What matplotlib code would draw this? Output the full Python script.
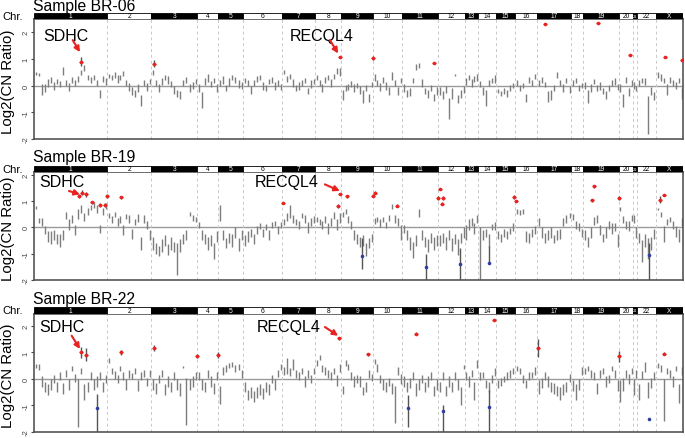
import matplotlib
matplotlib.use('Agg')
import matplotlib.pyplot as plt
import numpy as np

plt.rcParams['font.family'] = ['Liberation Sans', 'DejaVu Sans']

# chromosomes along the genome axis (widths = share of the plot)
chroms = ['1', '2', '3', '4', '5', '6', '7', '8', '9', '10', '11', '12',
          '13', '14', '15', '16', '17', '18', '19', '20', '21', '22', 'X']
chrom_width = [73, 44, 46, 21, 25, 39, 33, 26, 32, 29, 36, 27,
               13, 18, 19, 22, 34, 12, 36, 14, 4, 19, 27]

# ---- Sample BR-06 : probe log2 ratios (centre) and half spread, per chromosome
cen_06 = [
    [.45, .4, -.15, -.1, .1, .2, 0, .15, .05, .55, .1, -.05, .2, .1, .25, .5, .65, .3, .2, .3, .1, -.3, .25, .15],
    [.35, .3, .4, .25, .3, .45, .1, -.05, -.2, -.3, -.1, -.55, .1, -.05, .15],
    [.5, .1, -.1, .15, .3, .2, .05, -.15, -.3, -.35, .1, .2, -.1, 0, .15],
    [-.1, -.55, .15, .3, .05, .2, -.1],
    [.1, .2, -.1, .15, .3, .2, .05, 0],
    [.2, .1, -.15, .1, .25, .3, 0, -.1, .15, .2, 0, .1, -.05],
    [.5, .25, .35, .1, -.1, 0, .1, .2, -.2, .05, .15],
    [.3, .1, -.1, .2, .3, .1, .35, .55, .5],
    [-.35, -.1, -.05, .05, -.1, 0, -.15, -.4, -.1, -.45, .05],
    [.3, .1, -.05, .2, 0, -.2, .35, .1, -.2, .2],
    [-.1, -.3, -.25, .2, .7, .75, .1, -.2, -.3, -.1, -.45, -.2],
    [-.2, -.35, -.15, -.85, -.3, .4, -.5, -.3, -.15],
    [.15, .3, .1, .25, .3],
    [.05, -.2, -.45, .1, .2, .25],
    [-.2, -.3, -.2, -.3, -.1, 0],
    [.1, -.1, 0, -.45, .2, .1, .35],
    [.1, .2, .05, -.4, -.35, -.1, .4, .1, -.1, .2, -.15],
    [.1, .2, -.1, 0],
    [0, -.4, -.1, .15, -.1, 0, -.2, -.35, -.1, .1, .15, -.05],
    [-.1, -.55, .2, -.25, .1],
    [0, -.1],
    [.1, .2, .15, -1.1, -.2, -.4],
    [.4, .3, .2, -.15, .2, .1, 0, .2, -.3],
]
half_06 = [
    [.07, .06, .2, .15, .15, .12, .15, .1, .12, .15, .1, .15, .12, .1, .1, .1, .12, .1, .12, .1, .12, .15, .1, .12],
    [.08, .1, .1, .15, .1, .1, .12, .15, .15, .12, .15, .2, .12, .15, .1],
    [.1, .12, .15, .12, .1, .15, .12, .15, .12, .15, .1, .12, .15, .12, .1],
    [.15, .3, .12, .15, .12, .1, .15],
    [.12, .15, .12, .15, .1, .12, .15, .12],
    [.1, .12, .15, .12, .1, .1, .15, .12, .1, .12, .15, .12, .1],
    [.08, .12, .1, .15, .12, .15, .12, .1, .12, .15, .1],
    [.1, .12, .15, .12, .1, .15, .1, .1, .15],
    [.2, .12, .1, .12, .15, .1, .15, .25, .12, .15, .1],
    [.12, .12, .15, .12, .15, .15, .15, .12, .15, .1],
    [.15, .12, .15, .1, .1, .08, .15, .12, .15, .12, .12, .15],
    [.15, .15, .12, .4, .2, .05, .15, .15, .12],
    [.12, .1, .15, .1, .12],
    [.12, .15, .3, .12, .1, .15],
    [.08, .1, .1, .12, .12, .1],
    [.12, .12, .1, .15, .12, .1, .1],
    [.12, .12, .1, .2, .2, .12, .1, .12, .15, .1, .12],
    [.12, .1, .12, .1],
    [.12, .25, .15, .1, .12, .15, .12, .15, .12, .1, .12, .12],
    [.15, .25, .12, .15, .1],
    [.12, .1],
    [.12, .1, .12, .7, .15, .15],
    [.1, .12, .1, .2, .12, .1, .12, .1, .2],
]
amp_x_06 = [46.7, 120, 305.7, 339, 399.4, 511.4, 563.7, 596, 630.7, 648]
amp_y_06 = [.89, .82, 1.07, 1.04, .83, 2.32, 2.33, 1.14, 1.05, .95]
amp_e_06 = [.17, .14, .04, .08, .04, .02, .02, .03, .03, .03]
del_x_06 = []
del_y_06 = []
del_lo_06 = []
del_hi_06 = []

# ---- Sample BR-19
cen_19 = [
    [.75, .25, .2, -.1, -.35, -.4, -.3, -.45, -.5, -.3, .45, .1, .3, -.1, .5, .7, .4, .6, .75, .85, .7, -.05, .6, .8],
    [.45, .3, .5, .2, .3, -.1, .4, .3, -.25, .2, .35, -.6, .3, .1, -.3],
    [-.6, -.8, -.9, -.7, -.5, -.85, -.6, -.75, -1.2, -.7, -.45, -.3, .5, .35, .3],
    [.1, -.3, -.45, -.6, -.5, -.9, -.35],
    [.55, -.3, -.6, -.4, -.5, -.2, -.65, -.3],
    [-.5, -.35, -.2, -.45, -.1, .05, -.2, 0, -.3, .1, .15, -.1, .1],
    [.2, .4, .6, .3, .2, .1, .45, .3, 0, .2, .3],
    [.3, .2, .1, .3, -.05, .2, .45, .1, .35],
    [.5, .6, .3, .1, -.3, -.45, -.55, -.5, -.85, -.6, -.4],
    [.25, .3, .15, .3, .1, .35, .8, .3, .2, -.2],
    [-.05, -.3, -.6, -.85, -.5, .55, -.3, -.55, -.7, -.4, -.6, -.5],
    [-.5, -.4, -.6, -.3, -.65, -.45, -.75, -.4, -.2],
    [-.2, .1, .2, -.05, .3],
    [-1.0, -.3, -.2, -.5, 0, .05],
    [-.3, -.4, -.2, -.3, -.15, 0],
    [.6, .55, .6, -.35, -.4, -.2, -.1],
    [.2, -.2, -.4, -.3, -.2, -.45, -.3, -.25, .2, .3, .45],
    [.4, .1, 0, -.2],
    [-.3, -.55, -.2, .25, .3, -.1, -.4, -.2, .1, -.05, 0, -.5],
    [.7, .3, .1, .05, .35],
    [.3, -.2],
    [-.4, -.9, -.5, -.8, -.6, -.25],
    [.7, .5, -.25, .2, .3, .1, -.15, -.3, .2],
]
half_19 = [
    [.05, .1, .15, .15, .2, .25, .2, .2, .25, .2, .12, .2, .15, .2, .2, .15, .15, .12, .1, .12, .15, .15, .12, .12],
    [.08, .12, .1, .15, .12, .2, .1, .15, .2, .12, .15, .25, .15, .15, .2],
    [.25, .2, .2, .25, .2, .2, .25, .2, .6, .25, .2, .2, .08, .1, .1],
    [.12, .2, .2, .25, .2, .3, .2],
    [.3, .2, .2, .2, .25, .2, .25, .2],
    [.2, .2, .15, .2, .15, .12, .15, .12, .2, .12, .1, .15, .12],
    [.12, .15, .25, .15, .12, .15, .1, .15, .2, .15, .12],
    [.1, .12, .15, .12, .2, .15, .12, .2, .2],
    [.1, .1, .12, .15, .2, .2, .2, .2, .25, .2, .15],
    [.12, .1, .15, .1, .12, .1, .1, .15, .15, .3],
    [.15, .2, .25, .3, .2, .15, .2, .2, .25, .2, .25, .2],
    [.2, .2, .25, .2, .25, .2, .3, .2, .2],
    [.3, .2, .15, .2, .15],
    [1.0, .2, .15, .25, .12, .15],
    [.15, .15, .15, .15, .12, .15],
    [.08, .1, .1, .2, .2, .15, .15],
    [.15, .2, .2, .2, .2, .15, .2, .2, .15, .15, .1],
    [.12, .15, .15, .15],
    [.2, .2, .2, .15, .15, .2, .15, .2, .15, .2, .15, .25],
    [.08, .12, .15, .2, .1],
    [.15, .2],
    [.2, .4, .25, .4, .25, .2],
    [.05, .1, .3, .12, .1, .15, .2, .25, .15],
]
amp_x_19 = [45, 47.4, 51.7, 58, 65.7, 71, 72.4, 86.7, 248.4, 304, 305.7, 312.4, 339,
            340.7, 363, 404, 405.7, 407.4, 409, 480, 481.7, 558, 560, 585, 625.7, 630]
amp_y_19 = [1.2, 1.32, 1.25, .95, .85, .85, 1.2, 1.14, .92, .8, 1.27, 1.17, 1.2,
            1.32, .82, 1.1, 1.45, .9, 1.1, 1.15, 1.0, 1.02, 1.55, 1.1, 1.05, 1.22]
amp_e_19 = [.08, .08, .1, .06, .08, .08, .08, .06, .05, .08, .05, .07, .06,
            .06, .05, .08, .05, .05, .08, .06, .05, .05, .04, .08, .12, .05]
del_x_19 = [327.4, 391.4, 426, 454.7, 615]
del_y_19 = [-1.1, -1.5, -1.4, -1.35, -1.05]
del_lo_19 = [-1.6, -2.0, -2.0, -1.4, -2.0]
del_hi_19 = [-.4, -1.0, -.8, -.7, -.6]

# ---- Sample BR-22
cen_22 = [
    [.5, .45, -.1, -.3, -.4, -.2, 0, -.3, .1, -.35, .2, -.2, .4, .05, -.9, .3, -.5, -.3, .1, -.2, -.1, .1, -.3, 0],
    [.7, .3, .15, 0, .4, .1, -.2, .2, .1, .3, -.25, .1, .2, -.1, .2],
    [-.2, -.35, 0, .2, -.4, -.1, -.3, .1, -.2, -.4, .45, -.85, -.2, -.1, .1],
    [.1, -.2, -.3, .2, -.1, -.35, .1],
    [-.6, .3, .4, .5, .55, .4, .45, .2],
    [-.3, -.6, -.5, -.65, -.5, -.4, -.55, -.3, -.4, 0, -.2, .2, .45],
    [.3, .5, .25, .55, .2, .1, .3, -.1, .2, 0, .3],
    [.6, .8, .4, .3, .2, .1, .3, -.05, .4],
    [-.4, .6, .45, .1, -.1, 0, -.1, -.45, -.3, .2, .05],
    [.65, .4, 0, -.2, -.3, -.1, -.35, -.95, .3, 0],
    [-.1, -.3, -.15, .1, -.4, -.2, 0, -.3, -.1, .1, -.45, -.2],
    [-.3, .1, -.45, -.1, -.3, .1, -.2, -.65, .45],
    [.1, -.1, .2, -.45, .55],
    [.1, .15, -.2, -.3, 0, .25],
    [-.2, -.1, 0, .1, .2, .3],
    [.4, .3, 0, -.2, .1, .15, .3],
    [-.3, -.15, .1, -.1, -.3, -.35, -.45, -.55, -.4, -.3, .05],
    [-.25, -.5, -.2, .3],
    [.3, .4, .2, .1, -.35, .2, .3, -.1, 0, .4, .2, -.25],
    [-.45, -.2, .2, 0, .3],
    [-.3, .2],
    [-.5, .15, .45, -.4, -.15, .1],
    [.5, .4, -.8, .3, .2, -.1, .4, -.55, .3],
]
half_22 = [
    [.08, .1, .2, .2, .2, .2, .15, .2, .15, .2, .12, .2, .1, .15, .9, .1, .3, .2, .15, .2, .2, .15, .2, .15],
    [.1, .12, .15, .15, .1, .15, .2, .15, .12, .12, .2, .15, .12, .15, .12],
    [.2, .2, .15, .12, .2, .2, .2, .15, .2, .25, .05, .9, .2, .2, .15],
    [.15, .2, .2, .15, .2, .2, .15],
    [.35, .15, .12, .1, .1, .12, .1, .15],
    [.2, .2, .2, .2, .2, .2, .2, .2, .2, .15, .2, .12, .12],
    [.15, .3, .15, .2, .15, .15, .12, .2, .15, .15, .12],
    [.12, .1, .12, .15, .15, .15, .12, .2, .15],
    [.15, .1, .1, .15, .2, .15, .2, .15, .2, .15, .12],
    [.1, .15, .15, .2, .2, .15, .2, .7, .15, .2],
    [.2, .2, .2, .15, .25, .2, .15, .2, .2, .15, .2, .2],
    [.2, .15, .2, .2, .2, .15, .2, .35, .08],
    [.15, .2, .12, .35, .15],
    [.15, .12, .15, .2, .15, .15],
    [.15, .15, .12, .15, .15, .12],
    [.1, .12, .15, .15, .15, .12, .15],
    [.25, .2, .15, .2, .2, .2, .2, .25, .2, .2, .15],
    [.2, .3, .2, .15],
    [.12, .1, .15, .15, .2, .15, .12, .2, .15, .1, .15, .2],
    [.4, .25, .15, .2, .1],
    [.3, .15],
    [.3, .15, .2, .3, .2, .15],
    [.1, .12, .8, .12, .15, .2, .1, .35, .15],
]
amp_x_22 = [46.7, 51.7, 86.7, 120, 162.7, 183.4, 305, 334, 381.7, 459.7, 504, 585, 630.3]
amp_y_22 = [1.0, .92, 1.0, 1.16, .88, .9, 1.53, .93, 1.7, 2.24, 1.16, .85, .95]
amp_e_22 = [.2, .25, .08, .12, .08, .1, .05, .05, .06, .02, .35, .2, .05]
del_x_22 = [62.7, 374, 409, 454.7, 615]
del_y_22 = [-1.1, -1.1, -1.2, -1.05, -1.5]
del_lo_22 = [-2.0, -1.8, -2.0, -2.0, -1.5]
del_hi_22 = [-.55, -.6, -1.0, -.4, -1.5]

W, H = 685, 439
fig = plt.figure(figsize=(W / 100, H / 100), dpi=100)

starts = np.concatenate([[0], np.cumsum(chrom_width)[:-1]])
total = sum(chrom_width)
red = '#e8231f'
blue = '#2e3f9e'


def px(x0, y0, x1, y1):
    # pixel box -> figure fraction rect
    return [x0 / W, 1 - y1 / H, (x1 - x0) / W, (y1 - y0) / H]


def panel(top, bottom, bar_top, ytop, title, title_y, cen, half,
          ax_, ay_, ae_, dx_, dy_, dlo_, dhi_, notes):
    ax = fig.add_axes(px(34.3, top, 683, bottom))
    for i in range(len(chroms)):
        c = np.array(cen[i])
        h = np.array(half[i])
        n = len(c)
        xs = starts[i] + (np.arange(n) + 0.5) * chrom_width[i] / n
        ax.vlines(xs, c - h, c + h, color='#7d7d7d', lw=1.0)
    ax.vlines(starts[1:], -2, ytop, colors='#c8c8c8', lw=0.7, linestyles=(0, (3, 3)))
    ax.axhline(0, color='#9a9a9a', lw=1.0, zorder=0.5)

    ax_ = np.array(ax_); ay_ = np.array(ay_); ae_ = np.array(ae_)
    ax.vlines(ax_, ay_ - ae_, ay_ + ae_, color='#555555', lw=1.0)
    ax.plot(ax_, ay_, 'o', color=red, ms=2.6, mew=0, zorder=3)
    ax.plot(ax_, ay_, '_', color=red, ms=3.5, mew=1.0, zorder=3)
    if len(dx_):
        ax.vlines(dx_, dlo_, dhi_, color='#555555', lw=1.0)
        ax.plot(dx_, dy_, 'o', color=blue, ms=2.6, mew=0, zorder=3)

    for txt, tx, ty, a0, a1 in notes:
        ax.text(tx, ty, txt, fontsize=11.5, ha='left', va='baseline')
        ax.annotate('', xy=a1, xytext=a0,
                    arrowprops=dict(arrowstyle='-|>', color=red, lw=1.5,
                                    mutation_scale=8, shrinkA=0, shrinkB=0))

    ax.set_xlim(0, total)
    ax.set_ylim(-2, ytop)
    ax.set_xticks([])
    ax.set_yticks([-2, -1, 0, 1, 2])
    ax.set_yticklabels(['-2', '-1', '0', '1', '2'], rotation=90, va='center',
                       fontsize=5.5, color='#444444')
    ax.tick_params(axis='y', length=2, width=0.8, pad=1.5, color='#444444')
    for s in ax.spines.values():
        s.set_color('#555555')
        s.set_linewidth(1.2)

    bar = fig.add_axes(px(34.3, bar_top, 683, top))
    for i, name in enumerate(chroms):
        dark = i % 2 == 0
        bar.axvspan(starts[i], starts[i] + chrom_width[i],
                    color='black' if dark else 'white', ec='black', lw=0.6)
        bar.text(starts[i] + chrom_width[i] / 2, 0.5, name,
                 fontsize=3 if name == '21' else 4.8, ha='center', va='center',
                 color='white' if dark else 'black')
    bar.set_xlim(0, total)
    bar.set_ylim(0, 1)
    bar.axis('off')

    fig.text(33 / W, 1 - title_y / H, title, fontsize=11.3, va='baseline', ha='left')
    fig.text(2 / W, 1 - (bar_top + top) / 2 / H, 'Chr.', fontsize=8,
             va='center', ha='left')
    fig.text(8.5 / W, 1 - ((top + bottom) / 2 + 2) / H, 'Log2(CN Ratio)', fontsize=10.8,
             rotation=90, va='center', ha='center')


panel(20, 140, 14, 2.49, 'Sample BR-06', 11, cen_06, half_06,
      amp_x_06, amp_y_06, amp_e_06, del_x_06, del_y_06, del_lo_06, del_hi_06,
      [('SDHC', 8.7, 1.72, (38.4, 1.7), (45.7, 1.25)),
       ('RECQL4', 255.7, 1.72, (295.7, 1.7), (304, 1.2))])
panel(173, 281, 167, 2.1, 'Sample BR-19', 162, cen_19, half_19,
      amp_x_19, amp_y_19, amp_e_19, del_x_19, del_y_19, del_lo_19, del_hi_19,
      [('SDHC', 4.7, 1.56, (34.7, 1.38), (45.7, 1.25)),
       ('RECQL4', 220.7, 1.56, (290.7, 1.63), (305.7, 1.38))])
panel(315, 433, 308, 2.45, 'Sample BR-22', 304, cen_22, half_22,
      amp_x_22, amp_y_22, amp_e_22, del_x_22, del_y_22, del_lo_22, del_hi_22,
      [('SDHC', 4.7, 1.81, (37.4, 1.63), (45.7, 1.13)),
       ('RECQL4', 222.7, 1.81, (290.7, 1.96), (304, 1.63))])

fig.savefig('out.png', dpi=100)
